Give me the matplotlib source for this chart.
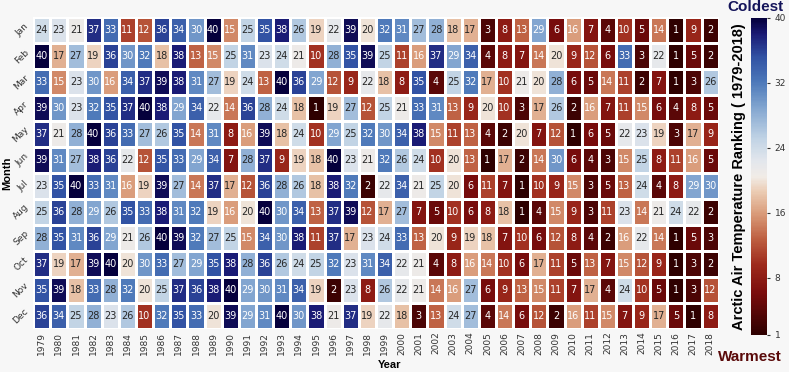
import numpy as np
import pandas as pd
import matplotlib
matplotlib.use("Agg")
import matplotlib.pyplot as plt
import seaborn as sns
from matplotlib.colors import LinearSegmentedColormap

# rank of each month's arctic air temperature, 1979-2018 (1 = warmest)
months = ["Jan", "Feb", "Mar", "Apr", "May", "Jun",
          "Jul", "Aug", "Sep", "Oct", "Nov", "Dec"]
years = list(range(1979, 2019))

jan = [24, 23, 21, 37, 33, 11, 12, 36, 34, 30, 40, 15, 25, 35, 38, 26, 19, 22, 39, 20,
       32, 31, 27, 28, 18, 17, 3, 8, 13, 29, 6, 16, 7, 4, 10, 5, 14, 1, 9, 2]
feb = [40, 17, 27, 19, 36, 30, 32, 18, 38, 13, 15, 25, 31, 23, 24, 21, 10, 28, 35, 39,
       25, 11, 16, 37, 29, 34, 4, 8, 7, 14, 20, 9, 12, 6, 33, 3, 22, 1, 5, 2]
mar = [33, 15, 23, 30, 16, 34, 37, 39, 38, 31, 27, 19, 24, 13, 40, 36, 29, 12, 9, 22,
       18, 8, 35, 4, 25, 32, 17, 10, 21, 20, 28, 6, 5, 14, 11, 2, 7, 1, 3, 26]
apr = [39, 30, 23, 32, 35, 37, 40, 38, 29, 34, 22, 14, 36, 28, 24, 18, 1, 19, 27, 12,
       25, 21, 33, 31, 13, 9, 20, 10, 3, 17, 26, 2, 16, 7, 11, 15, 6, 4, 8, 5]
may = [37, 21, 28, 40, 36, 33, 27, 26, 35, 14, 31, 8, 16, 39, 18, 24, 10, 29, 25, 32,
       30, 34, 38, 15, 11, 13, 4, 2, 20, 7, 12, 1, 6, 5, 22, 23, 19, 3, 17, 9]
jun = [39, 31, 27, 38, 36, 22, 12, 35, 33, 29, 34, 7, 28, 37, 9, 19, 18, 40, 23, 21,
       32, 26, 24, 10, 20, 13, 1, 17, 2, 14, 30, 6, 4, 3, 15, 25, 8, 11, 16, 5]
jul = [23, 35, 40, 33, 31, 16, 19, 39, 27, 14, 37, 17, 12, 36, 28, 26, 18, 38, 32, 2,
       22, 34, 21, 25, 20, 6, 11, 7, 1, 10, 9, 15, 3, 5, 13, 24, 4, 8, 29, 30]
aug = [25, 36, 28, 29, 26, 35, 33, 38, 31, 32, 19, 16, 20, 40, 30, 34, 13, 37, 39, 12,
       17, 27, 7, 5, 10, 6, 8, 18, 1, 4, 15, 9, 3, 11, 23, 14, 21, 24, 22, 2]
sep = [28, 35, 31, 36, 29, 21, 26, 40, 39, 32, 27, 25, 15, 34, 30, 38, 11, 37, 17, 23,
       24, 33, 13, 20, 9, 19, 18, 7, 10, 6, 12, 8, 4, 2, 16, 22, 14, 1, 5, 3]
oct_ = [37, 19, 17, 39, 40, 20, 30, 33, 27, 29, 35, 38, 28, 36, 26, 24, 25, 32, 23, 31,
        34, 22, 21, 4, 8, 16, 14, 10, 6, 17, 11, 5, 13, 7, 15, 12, 9, 1, 3, 2]
nov = [35, 39, 18, 33, 28, 32, 20, 25, 37, 36, 38, 40, 29, 30, 31, 34, 19, 2, 23, 8,
       26, 22, 21, 14, 16, 27, 6, 9, 13, 15, 11, 7, 17, 4, 24, 10, 5, 1, 3, 12]
dec = [36, 34, 25, 28, 23, 26, 10, 32, 35, 33, 20, 39, 29, 31, 40, 30, 38, 21, 37, 19,
       22, 18, 3, 13, 24, 27, 4, 14, 6, 12, 2, 16, 11, 15, 7, 9, 17, 5, 1, 8]

df = pd.DataFrame([jan, feb, mar, apr, may, jun, jul, aug, sep, oct_, nov, dec],
                  index=months, columns=years)

# dark red (warm) -> off white -> dark navy (cold)
cmap = LinearSegmentedColormap.from_list("rank", [
    (0.00, "#2e0000"), (0.13, "#7a0c0c"), (0.22, "#9e2a1c"), (0.30, "#bd5e40"),
    (0.38, "#d99a78"), (0.45, "#ebcbb2"), (0.50, "#f1ece7"), (0.55, "#e2e6ec"),
    (0.62, "#c0d3e5"), (0.72, "#80a4cf"), (0.80, "#4c78b9"), (0.88, "#3050a2"),
    (0.95, "#1a1a74"), (1.00, "#05003c")])

bg = "#f7f7f7"
fig = plt.figure(figsize=(7.89, 3.72), dpi=100, facecolor=bg)
ax = fig.add_axes([0.042, 0.116, 0.869, 0.838])
cax = fig.add_axes([0.952, 0.10, 0.020, 0.852])

sns.heatmap(df, ax=ax, cbar_ax=cax, cmap=cmap, vmin=1, vmax=40,
            annot=True, fmt="d", annot_kws={"size": 7},
            linewidths=1, linecolor="white")

ax.set_xticklabels(years, rotation=90, fontsize=6.5, color="#333333")
ax.set_yticklabels(months, rotation=45, fontsize=6.5, color="#333333")
ax.tick_params(length=0, pad=2)
ax.set_xlabel("Year", fontsize=8, fontweight="bold", family="Liberation Sans")
ax.set_ylabel("Month", fontsize=8, fontweight="bold", family="Liberation Sans")
ax.xaxis.set_label_coords(0.52, -0.10)
ax.yaxis.set_label_coords(-0.03, 0.5)

cbar = ax.collections[0].colorbar
cbar.set_ticks([1, 8, 16, 24, 32, 40])
cbar.ax.tick_params(labelsize=6.5, length=2, colors="#333333")
cbar.outline.set_visible(False)

fig.text(0.936, 0.525, "Arctic Air Temperature Ranking ( 1979-2018)", rotation=90,
         ha="center", va="center", fontsize=10.5, fontweight="bold",
         family="Liberation Sans")
fig.text(0.957, 0.982, "Coldest", ha="center", va="center", fontsize=11,
         fontweight="bold", color="#14145a", family="Liberation Sans")
fig.text(0.950, 0.040, "Warmest", ha="center", va="center", fontsize=11,
         fontweight="bold", color="#5a0a0a", family="Liberation Sans")

fig.savefig("out.png", dpi=100, facecolor=bg)
